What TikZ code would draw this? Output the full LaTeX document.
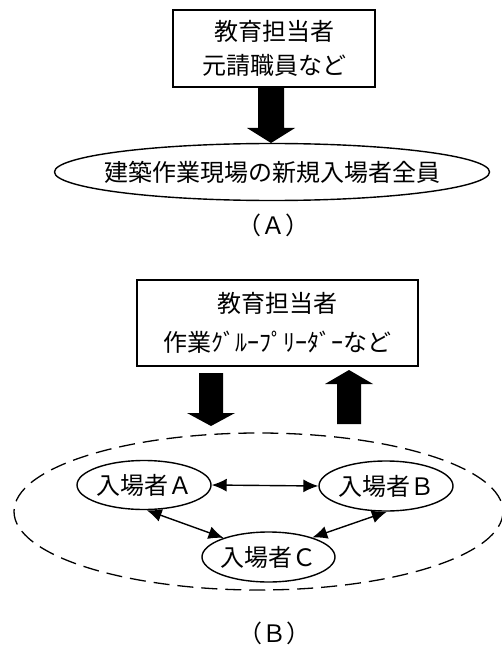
\documentclass[tikz,border=0pt]{standalone}
\usepackage{fontspec}
\setmainfont{Noto Sans CJK JP}
\usetikzlibrary{shapes.geometric,arrows.meta}
\tikzset{
  every picture/.style={x=1pt,y=-1pt},
  jp/.style={font=\fontsize{24pt}{34pt}\selectfont},
  boxnode/.style={draw,line width=1.4pt,align=center,inner sep=0pt,jp},
  ellnode/.style={draw,ellipse,line width=1.4pt,inner sep=0pt,inner xsep=-8pt,jp},
  blockarrow/.style={fill=black},
  twoway/.style={line width=1.4pt,{Latex[length=15pt,width=13pt]}-{Latex[length=15pt,width=13pt]}},
}
\begin{document}
\begin{tikzpicture}
\useasboundingbox (0,0) rectangle (501,647);
% (A)
\node[boxnode,minimum width=202pt,minimum height=77pt] (boxA) at (274,48.5) {教育担当者\\元請職員など};
\node[ellnode,inner xsep=-30pt,minimum width=435pt,minimum height=57pt] (ellA) at (272,172) {建築作業現場の新規入場者全員};
\node[jp,inner sep=0pt] (labA) at (273,225) {（Ａ）};
\fill[blockarrow] (boxA.south -| 258,0) -- (258,128) -- (247,128) -- (271,143) -- (295,128) -- (284,128) -- (boxA.south -| 284,0) -- cycle;
% (B)
\node[boxnode,minimum width=281pt,minimum height=86pt,font=\fontsize{24pt}{39pt}\selectfont] (boxB) at (277.5,323) {教育担当者\\作業ｸﾞﾙｰﾌﾟﾘｰﾀﾞｰなど};
\draw[line width=1.3pt,dash pattern=on 16pt off 8pt] (258.5,511.5) ellipse [x radius=244.5, y radius=78.5];
\node[ellnode,minimum width=134pt,minimum height=49pt] (nA) at (144,485) {入場者Ａ};
\node[ellnode,minimum width=134pt,minimum height=50pt] (nB) at (386,486) {入場者Ｂ};
\node[ellnode,minimum width=133pt,minimum height=50pt] (nC) at (268.5,557) {入場者Ｃ};
\fill[blockarrow] (199,373) -- (199,413) -- (187,413) -- (211,426) -- (235,413) -- (223,413) -- (223,373) -- cycle;
\fill[blockarrow] (337,424) -- (337,384) -- (325,384) -- (349,370) -- (373,384) -- (361,384) -- (361,424) -- cycle;
\draw[twoway] (nA.east) -- (nB.west);
\draw[twoway] (nA.-84) -- (nC.157);
\draw[twoway] (nB.-88) -- (nC.24);
\node[jp,inner sep=0pt] (labB) at (274,633) {（Ｂ）};
\end{tikzpicture}
\end{document}
